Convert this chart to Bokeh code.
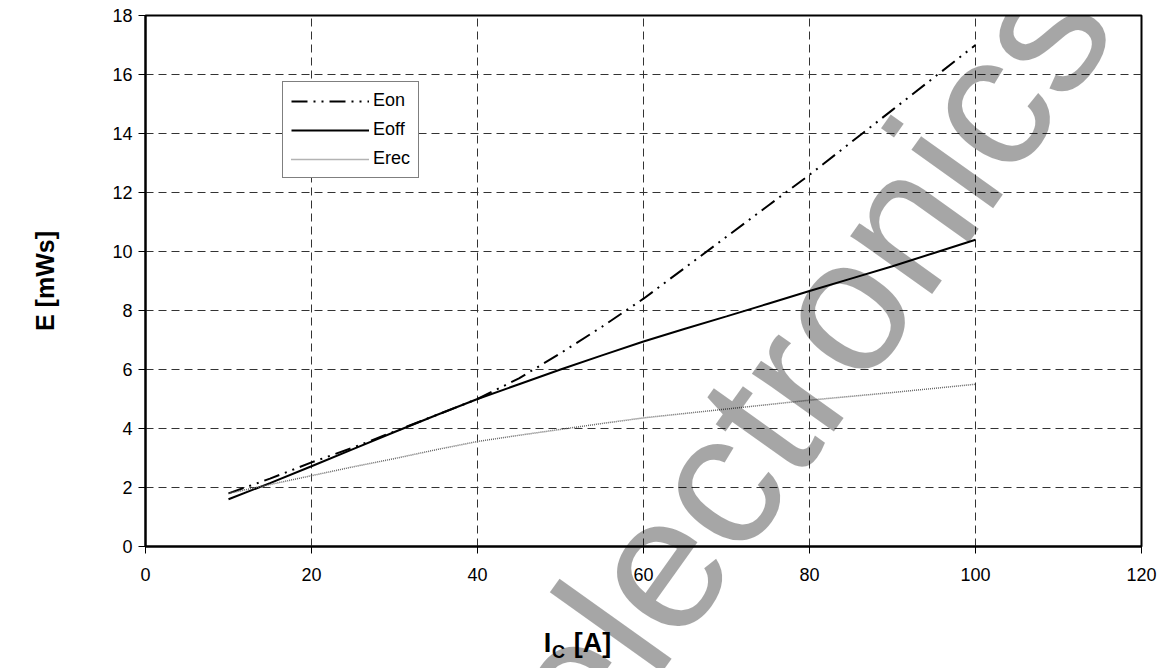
from bokeh.plotting import figure
from bokeh.models import Range1d, FixedTicker, Label, Legend, LegendItem, LinearAxis
from bokeh.embed import file_html
from bokeh.resources import INLINE

# ---- data ----
ic = [10, 15, 20, 25, 30, 35, 40, 45, 50, 55, 60, 65, 70, 75, 80, 85, 90, 95, 100]
eon = [1.8, 2.3, 2.85, 3.35, 3.9, 4.45, 5.0, 5.7, 6.55, 7.45, 8.4, 9.45, 10.5, 11.55, 12.6, 13.7, 14.8, 15.9, 17.0]
eoff = [1.6, 2.15, 2.72, 3.3, 3.88, 4.45, 5.0, 5.5, 6.0, 6.48, 6.95, 7.38, 7.8, 8.23, 8.66, 9.08, 9.5, 9.95, 10.4]
erec = [1.8, 2.1, 2.4, 2.7, 2.98, 3.28, 3.56, 3.77, 3.97, 4.17, 4.36, 4.51, 4.66, 4.81, 4.96, 5.09, 5.22, 5.36, 5.5]

x_ticks = [0, 20, 40, 60, 80, 100, 120]
y_ticks = [0, 2, 4, 6, 8, 10, 12, 14, 16, 18]
series_names = ["Eon", "Eoff", "Erec"]
y_label = "E [mWs]"
x_label_main = "I"
x_label_sub = "C"
x_label_unit = "[A]"
watermark = "electronics"
WM_SPLIT = 9  # first part drawn by an unclipped guide, rest inside the frame

FONT = "Liberation Sans"
FRAME_W = 996
WM_ANGLE = 0.951
WM_SIZE = "190px"

p = figure(width=1160, height=668, output_backend="svg", toolbar_location=None,
           x_range=Range1d(0, 120), y_range=Range1d(0, 18),
           min_border_left=145, min_border_right=19, min_border_top=15, min_border_bottom=122)

p.background_fill_color = "white"
p.border_fill_color = "white"
p.outline_line_color = "black"
p.outline_line_width = 2

for ax, ticks in ((p.xaxis[0], x_ticks), (p.yaxis[0], y_ticks)):
    ax.ticker = FixedTicker(ticks=ticks)
    ax.axis_line_color = "black"
    ax.axis_line_width = 2
    ax.major_tick_line_color = "black"
    ax.major_tick_line_width = 1
    ax.major_tick_out = 7
    ax.major_tick_in = 0
    ax.minor_tick_line_color = None
    ax.major_label_text_font = FONT
    ax.major_label_text_font_size = "18px"
    ax.major_label_text_color = "black"

p.xaxis.major_label_standoff = 14
p.yaxis.major_label_standoff = 6

p.yaxis.axis_label = y_label
p.yaxis.axis_label_text_font = FONT
p.yaxis.axis_label_text_font_size = "25px"
p.yaxis.axis_label_text_font_style = "bold"
p.yaxis.axis_label_text_color = "black"
p.yaxis.axis_label_standoff = 50

for g in (p.xgrid[0], p.ygrid[0]):
    g.grid_line_color = "#333333"
    g.grid_line_width = 1
    g.grid_line_dash = "8 5"
p.xgrid.ticker = FixedTicker(ticks=x_ticks)
p.ygrid.ticker = FixedTicker(ticks=y_ticks)

r_on = p.line(ic, eon, line_color="black", line_width=2, line_dash="16 6 2 6 2 6")
r_off = p.line(ic, eoff, line_color="black", line_width=2)
r_rec = p.line(ic, erec, line_color="#666666", line_width=1.5, line_dash="1 1")

legend = Legend(items=[LegendItem(label=series_names[0], renderers=[r_on]),
                       LegendItem(label=series_names[1], renderers=[r_off]),
                       LegendItem(label=series_names[2], renderers=[r_rec])],
                location=(137, 368))
legend.border_line_color = "black"
legend.border_line_width = 1
legend.background_fill_color = "white"
legend.background_fill_alpha = 1
legend.label_text_font = FONT
legend.label_text_font_size = "18px"
legend.label_text_color = "black"
legend.glyph_width = 78
legend.glyph_height = 20
legend.label_height = 20
legend.label_standoff = 4
legend.spacing = 8
legend.padding = 8
legend.margin = 0
p.add_layout(legend, "center")

p.extra_x_ranges = {"px": Range1d(0, FRAME_W)}

# watermark, part 1: a label-only axis above the frame (axis labels are not clipped)
wm_axis = LinearAxis(x_range_name="px", ticker=FixedTicker(ticks=[394]),
                     major_label_overrides={394: watermark[:WM_SPLIT]})
wm_axis.axis_line_color = None
wm_axis.major_tick_line_color = None
wm_axis.minor_tick_line_color = None
wm_axis.major_tick_out = 0
wm_axis.major_tick_in = 0
wm_axis.minor_tick_out = 0
wm_axis.major_label_orientation = WM_ANGLE
wm_axis.major_label_text_font = FONT
wm_axis.major_label_text_font_size = WM_SIZE
wm_axis.major_label_text_color = "black"
wm_axis.major_label_text_alpha = 0.35
wm_axis.major_label_standoff = -715
p.add_layout(wm_axis, "above")

# watermark, part 2: the remaining letters inside the frame
wm = Label(x=811, y=-401 + 802, x_units="screen", y_units="screen", text=watermark[WM_SPLIT:],
           angle=WM_ANGLE, text_font_size=WM_SIZE, text_color="black", text_alpha=0.35,
           text_font=FONT, text_baseline="alphabetic", text_align="left", level="overlay")
p.add_layout(wm)


# x-axis title "I_C [A]" built from two label-only axes (pixel range across the frame)
def label_axis(positions, texts, size, standoff):
    a = LinearAxis(x_range_name="px", ticker=FixedTicker(ticks=positions),
                   major_label_overrides={k: t for k, t in zip(positions, texts)})
    a.axis_line_color = None
    a.major_tick_line_color = None
    a.minor_tick_line_color = None
    a.major_tick_out = 0
    a.major_tick_in = 0
    a.minor_tick_out = 0
    a.major_label_text_font = FONT
    a.major_label_text_font_style = "bold"
    a.major_label_text_font_size = size
    a.major_label_text_color = "black"
    a.major_label_standoff = standoff
    p.add_layout(a, "below")
    return a


label_axis([402, 447], [x_label_main, x_label_unit], "27px", 44)
label_axis([413], [x_label_sub], "18px", -19)

open("out.html", "w").write(file_html(p, INLINE))
